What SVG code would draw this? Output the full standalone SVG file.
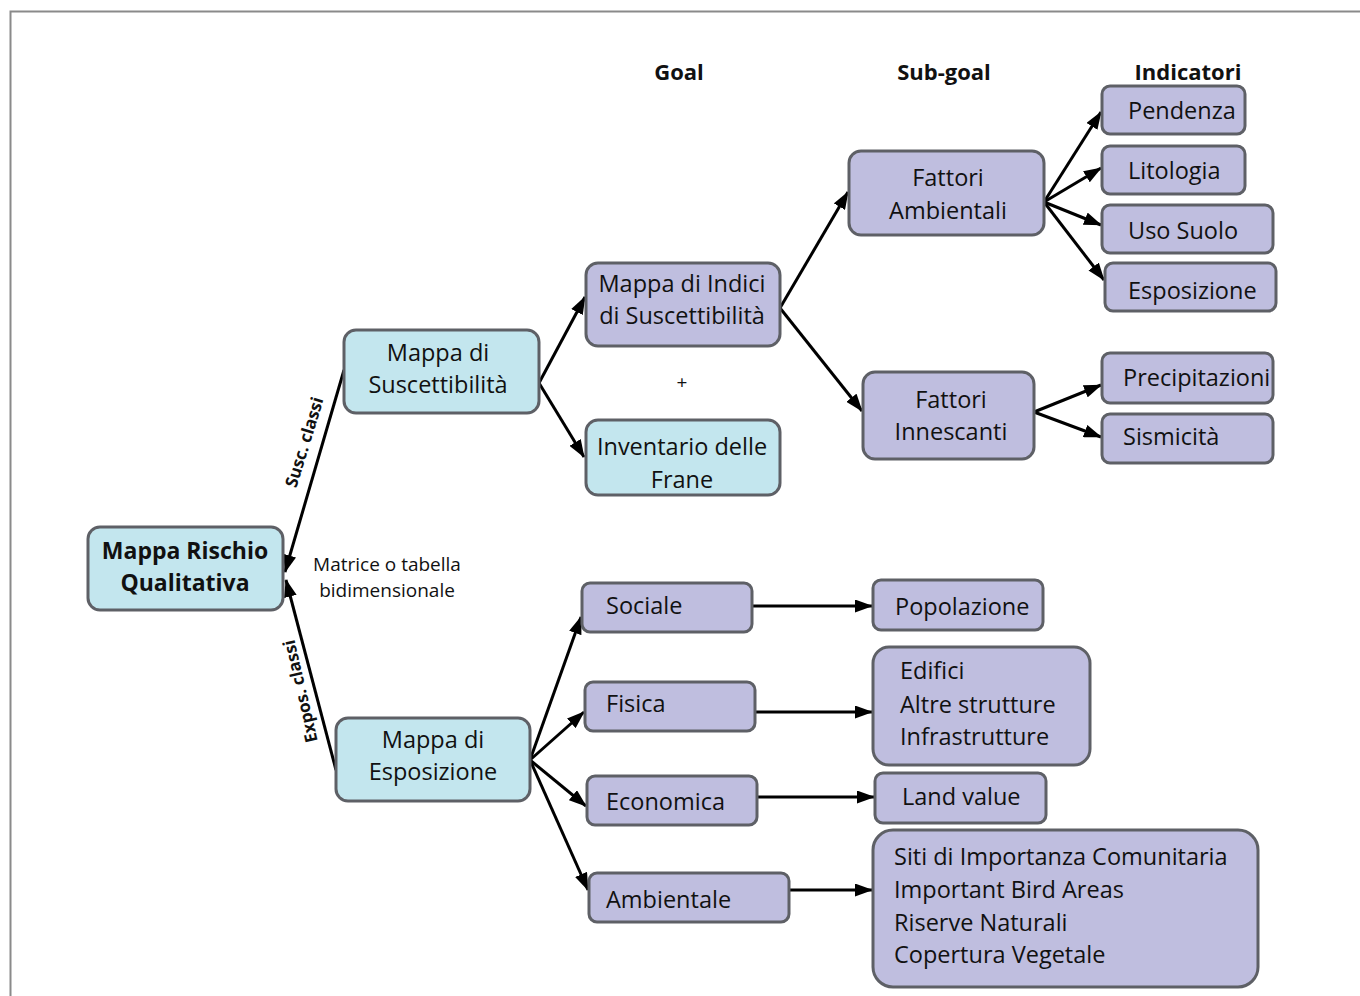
<svg xmlns="http://www.w3.org/2000/svg" width="1360" height="996" viewBox="0 0 1360 996">
  <defs>
    <marker id="arr" viewBox="0 0 18 13" refX="17" refY="6.5" markerWidth="18" markerHeight="13" markerUnits="userSpaceOnUse" orient="auto">
      <path d="M0,0 L18,6.5 L0,13 z" fill="#000"/>
    </marker>
    <style>
      .blue { fill: #c3e6ee; stroke: #5e6066; stroke-width: 3; }
      .lilac { fill: #bfbedf; stroke: #5e6066; stroke-width: 3; }
      .t { font-family: "Open Sans", Lato, "Liberation Sans", sans-serif; font-size: 23.5px; fill: #111; }
      .c { text-anchor: middle; }
      .b { font-weight: bold; }
      .t.b { font-size: 23px; }
      .hdr { font-family: "Open Sans", Lato, "Liberation Sans", sans-serif; font-size: 22px; font-weight: bold; fill: #111; text-anchor: middle; }
      .lbl { font-family: "Open Sans", Lato, "Liberation Sans", sans-serif; font-size: 19px; fill: #111; text-anchor: middle; }
      .rot { font-family: "Open Sans", Lato, "Liberation Sans", sans-serif; font-size: 17px; font-weight: bold; fill: #111; text-anchor: middle; }
      .conn line { stroke: #000; stroke-width: 3; marker-end: url(#arr); }
    </style>
  </defs>
  <rect width="1360" height="996" fill="#fff"/>
  <!-- frame -->
  <path d="M10.5,996 V11.5 H1360" fill="none" stroke="#8a8a8a" stroke-width="2"/>

  <!-- column headers -->
  <text class="hdr" x="679" y="80">Goal</text>
  <text class="hdr" x="944" y="80">Sub-goal</text>
  <text class="hdr" x="1188" y="80">Indicatori</text>

  <!-- connectors -->
  <g id="connectors" class="conn">
    <line x1="344" y1="370" x2="285" y2="572"/>
    <line x1="336" y1="770" x2="286" y2="580"/>
    <line x1="539" y1="383" x2="585" y2="297"/>
    <line x1="539" y1="383" x2="584" y2="457"/>
    <line x1="780" y1="308" x2="848" y2="192"/>
    <line x1="780" y1="308" x2="862" y2="411"/>
    <line x1="1044" y1="202" x2="1101" y2="112"/>
    <line x1="1044" y1="202" x2="1101" y2="168"/>
    <line x1="1044" y1="202" x2="1101" y2="225"/>
    <line x1="1044" y1="202" x2="1104" y2="280"/>
    <line x1="1034" y1="412" x2="1101" y2="385"/>
    <line x1="1034" y1="412" x2="1101" y2="437"/>
    <line x1="530" y1="760" x2="581" y2="617"/>
    <line x1="530" y1="760" x2="584" y2="712"/>
    <line x1="530" y1="760" x2="586" y2="806"/>
    <line x1="530" y1="760" x2="588" y2="890"/>
    <line x1="752" y1="606" x2="872" y2="606"/>
    <line x1="755" y1="712" x2="872" y2="712"/>
    <line x1="757" y1="797" x2="874" y2="797"/>
    <line x1="789" y1="890" x2="872" y2="890"/>
    <text class="rot" transform="translate(310,444) rotate(-73)">Susc. classi</text>
    <text class="rot" transform="translate(306,690) rotate(-103)">Expos. classi</text>
    <text class="lbl" x="387" y="571">Matrice o tabella</text>
    <text class="lbl" x="387" y="597">bidimensionale</text>
    <text class="lbl" x="682" y="389">+</text>
  </g>

  <!-- nodes -->
  <g id="rischio">
    <rect class="blue" x="88" y="527" width="195" height="83" rx="12"/>
    <text class="t c b" x="185" y="559">Mappa Rischio</text>
    <text class="t c b" x="185" y="591">Qualitativa</text>
  </g>
  <g id="suscettibilita">
    <rect class="blue" x="344" y="330" width="195" height="83" rx="12"/>
    <text class="t c" x="438" y="361">Mappa di</text>
    <text class="t c" x="438" y="393">Suscettibilità</text>
  </g>
  <g id="esposizione-map">
    <rect class="blue" x="336" y="718" width="194" height="83" rx="12"/>
    <text class="t c" x="433" y="748">Mappa di</text>
    <text class="t c" x="433" y="780">Esposizione</text>
  </g>
  <g id="indici">
    <rect class="lilac" x="586" y="263" width="194" height="83" rx="12"/>
    <text class="t c" x="682" y="292">Mappa di Indici</text>
    <text class="t c" x="682" y="324">di Suscettibilità</text>
  </g>
  <g id="inventario">
    <rect class="blue" x="586" y="420" width="194" height="75" rx="12"/>
    <text class="t c" x="682" y="455">Inventario delle</text>
    <text class="t c" x="682" y="488">Frane</text>
  </g>
  <g id="fattori-ambientali">
    <rect class="lilac" x="849" y="151" width="195" height="84" rx="12"/>
    <text class="t c" x="948" y="186">Fattori</text>
    <text class="t c" x="948" y="219">Ambientali</text>
  </g>
  <g id="fattori-innescanti">
    <rect class="lilac" x="863" y="372" width="171" height="87" rx="12"/>
    <text class="t c" x="951" y="408">Fattori</text>
    <text class="t c" x="951" y="440">Innescanti</text>
  </g>
  <g id="pendenza">
    <rect class="lilac" x="1102" y="86" width="143" height="48" rx="8"/>
    <text class="t" x="1128" y="119">Pendenza</text>
  </g>
  <g id="litologia">
    <rect class="lilac" x="1102" y="146" width="143" height="48" rx="8"/>
    <text class="t" x="1128" y="179">Litologia</text>
  </g>
  <g id="uso-suolo">
    <rect class="lilac" x="1102" y="205" width="171" height="48" rx="8"/>
    <text class="t" x="1128" y="239">Uso Suolo</text>
  </g>
  <g id="esposizione">
    <rect class="lilac" x="1105" y="263" width="171" height="48" rx="8"/>
    <text class="t" x="1128" y="299">Esposizione</text>
  </g>
  <g id="precipitazioni">
    <rect class="lilac" x="1102" y="353" width="171" height="50" rx="8"/>
    <text class="t" x="1123" y="386">Precipitazioni</text>
  </g>
  <g id="sismicita">
    <rect class="lilac" x="1102" y="414" width="171" height="49" rx="8"/>
    <text class="t" x="1123" y="445">Sismicità</text>
  </g>
  <g id="sociale">
    <rect class="lilac" x="582" y="583" width="170" height="49" rx="8"/>
    <text class="t" x="606" y="614">Sociale</text>
  </g>
  <g id="fisica">
    <rect class="lilac" x="585" y="682" width="170" height="49" rx="8"/>
    <text class="t" x="606" y="712">Fisica</text>
  </g>
  <g id="economica">
    <rect class="lilac" x="587" y="776" width="170" height="49" rx="8"/>
    <text class="t" x="606" y="810">Economica</text>
  </g>
  <g id="ambientale">
    <rect class="lilac" x="589" y="873" width="200" height="49" rx="8"/>
    <text class="t" x="606" y="908">Ambientale</text>
  </g>
  <g id="popolazione">
    <rect class="lilac" x="873" y="580" width="170" height="50" rx="8"/>
    <text class="t" x="895" y="615">Popolazione</text>
  </g>
  <g id="strutture">
    <rect class="lilac" x="873" y="647" width="217" height="118" rx="16"/>
    <text class="t" x="900" y="679">Edifici</text>
    <text class="t" x="900" y="713">Altre strutture</text>
    <text class="t" x="900" y="745">Infrastrutture</text>
  </g>
  <g id="land-value">
    <rect class="lilac" x="875" y="773" width="171" height="50" rx="8"/>
    <text class="t" x="902" y="805">Land value</text>
  </g>
  <g id="ambiente-indicatori">
    <rect class="lilac" x="873" y="830" width="385" height="157" rx="20"/>
    <text class="t" x="894" y="865">Siti di Importanza Comunitaria</text>
    <text class="t" x="894" y="898">Important Bird Areas</text>
    <text class="t" x="894" y="931">Riserve Naturali</text>
    <text class="t" x="894" y="963">Copertura Vegetale</text>
  </g>
</svg>
